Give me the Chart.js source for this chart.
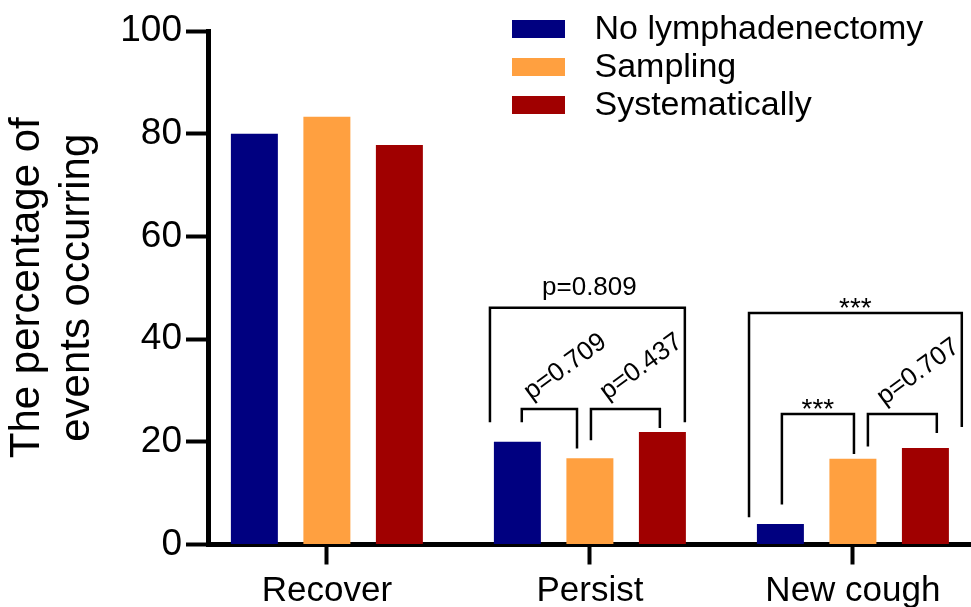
<!DOCTYPE html>
<html>
<head>
<meta charset="utf-8">
<script src="https://cdn.jsdelivr.net/npm/chart.js@4.4.1/dist/chart.umd.min.js"></script>
<style>
  html, body { margin: 0; padding: 0; background: #fff; }
  .chart-box { width: 971px; height: 607px; }
</style>
</head>
<body>
<div class="chart-box"><canvas id="myChart"></canvas></div>
<script>
const categories = ['Recover', 'Persist', 'New cough'];
const seriesNames = ['No lymphadenectomy', 'Sampling', 'Systematically'];
const noLymph = [80.0, 20.0, 4.0];
const sampling = [83.3, 16.8, 16.7];
const systematic = [77.8, 21.9, 18.8];
const yTicks = [0, 20, 40, 60, 80, 100];
const seriesColors = ['#000080', '#FFA040', '#A00000'];

// significance brackets (x in category units, y in percent)
const brackets = [
    { x1: 0.620, x2: 1.361, top: 46.1, y1: 23.8, y2: 23.8, text: 'p=0.809', kind: 'flat' },
    { x1: 0.741, x2: 0.951, top: 26.4, y1: 23.8, y2: 18.7, text: 'p=0.709', kind: 'tilt' },
    { x1: 1.004, x2: 1.266, top: 26.4, y1: 20.3, y2: 22.7, text: 'p=0.437', kind: 'tilt' },
    { x1: 1.605, x2: 2.414, top: 45.1, y1: 5.3, y2: 22.9, text: '***', kind: 'stars' },
    { x1: 1.730, x2: 2.004, top: 25.4, y1: 7.8, y2: 17.6, text: '***', kind: 'stars' },
    { x1: 2.057, x2: 2.319, top: 25.4, y1: 19.1, y2: 21.7, text: 'p=0.707', kind: 'tilt' }
];

const family = '"Liberation Sans", Arial, sans-serif';
const seriesValues = [noLymph, sampling, systematic];

const bracketPlugin = {
    id: 'brackets',
    afterDatasetsDraw(chart) {
        const { ctx } = chart;
        const xs = chart.scales.x;
        const ys = chart.scales.y;
        ctx.save();
        ctx.strokeStyle = '#000';
        ctx.fillStyle = '#000';
        ctx.lineWidth = 2.5;
        brackets.forEach(b => {
            const x1 = xs.getPixelForValue(b.x1);
            const x2 = xs.getPixelForValue(b.x2);
            const top = ys.getPixelForValue(b.top);
            ctx.beginPath();
            ctx.moveTo(x1, ys.getPixelForValue(b.y1));
            ctx.lineTo(x1, top);
            ctx.lineTo(x2, top);
            ctx.lineTo(x2, ys.getPixelForValue(b.y2));
            ctx.stroke();
            const cx = (x1 + x2) / 2;
            ctx.textAlign = 'center';
            if (b.kind === 'tilt') {
                ctx.save();
                ctx.font = '26px ' + family;
                ctx.textBaseline = 'middle';
                ctx.translate(cx + 16, top - 42);
                ctx.rotate(-36 * Math.PI / 180);
                ctx.fillText(b.text, 0, 0);
                ctx.restore();
            } else if (b.kind === 'stars') {
                ctx.font = '28px ' + family;
                ctx.textBaseline = 'alphabetic';
                ctx.fillText(b.text, cx, top + 4);
            } else {
                ctx.font = '26px ' + family;
                ctx.textBaseline = 'alphabetic';
                ctx.fillText(b.text, cx + 2, top - 13);
            }
        });
        ctx.restore();
    }
};

const legendPlugin = {
    id: 'sideLegend',
    afterDraw(chart) {
        const { ctx } = chart;
        ctx.save();
        ctx.font = '34px ' + family;
        ctx.textBaseline = 'alphabetic';
        ctx.textAlign = 'left';
        chart.data.datasets.forEach((ds, i) => {
            const base = 38.5 + i * 38;
            ctx.fillStyle = ds.backgroundColor;
            ctx.fillRect(512, base - 18.5, 53, 18);
            ctx.fillStyle = '#000';
            ctx.fillText(ds.label, 594.5, base);
        });
        ctx.restore();
    }
};

const ctx = document.getElementById('myChart');

new Chart(ctx, {
    type: 'bar',
    data: {
        datasets: seriesNames.map((name, i) => ({
            label: name,
            data: seriesValues[i].map((v, j) => ({ x: j, y: v })),
            backgroundColor: seriesColors[i],
            borderWidth: 0,
            barPercentage: 0.648,
            categoryPercentage: 0.827
        }))
    },
    options: {
        responsive: true,
        maintainAspectRatio: false,
        animation: false,
        devicePixelRatio: 1,
        layout: { padding: { top: 31, left: 0, right: 0, bottom: 0 } },
        scales: {
            x: {
                type: 'linear',
                min: -0.452,
                max: 2.449,
                offset: false,
                z: 1,
                afterBuildTicks: scale => {
                    scale.ticks = categories.map((c, i) => ({ value: i }));
                },
                afterFit: scale => { scale.height = 62.5; },
                ticks: {
                    color: '#000',
                    font: { size: 35, family: family },
                    padding: 6,
                    maxRotation: 0,
                    autoSkip: false,
                    callback: value => categories[value]
                },
                grid: {
                    offset: false,
                    drawOnChartArea: false,
                    drawTicks: true,
                    tickLength: 20,
                    tickWidth: 4,
                    tickColor: '#000',
                    color: '#000'
                },
                border: { display: true, color: '#000', width: 5 }
            },
            y: {
                min: 0,
                max: 100,
                z: 1,
                afterBuildTicks: scale => {
                    scale.ticks = yTicks.map(v => ({ value: v }));
                },
                afterFit: scale => { scale.width = 208; },
                ticks: {
                    color: '#000',
                    font: { size: 37, family: family },
                    padding: 4
                },
                grid: {
                    drawOnChartArea: false,
                    drawTicks: true,
                    tickLength: 22,
                    tickWidth: 4,
                    tickColor: '#000',
                    color: '#000'
                },
                border: { display: true, color: '#000', width: 5 },
                title: {
                    display: true,
                    text: ['The percentage of', 'events occurring'],
                    color: '#000',
                    font: { size: 42, family: family },
                    padding: { top: 2, bottom: 0 }
                }
            }
        },
        plugins: {
            legend: { display: false },
            tooltip: { enabled: false }
        }
    },
    plugins: [bracketPlugin, legendPlugin]
});
</script>
</body>
</html>
